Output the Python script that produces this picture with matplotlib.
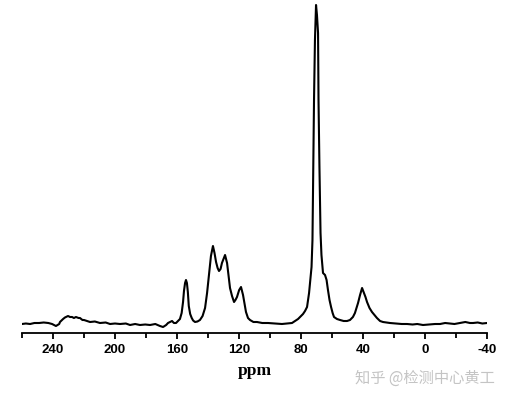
import matplotlib
matplotlib.use("Agg")
import matplotlib.pyplot as plt
from matplotlib.ticker import MultipleLocator

plt.rcParams["axes.unicode_minus"] = False

ppm = [260.0, 257.5, 254.8, 252, 249, 246, 243, 240.6, 238.1, 236, 235.5, 233.5, 232.3, 230.3, 229,
       227.7, 226.5, 225.2, 223.5, 222.6, 221, 220, 218, 216.1, 213, 209.7, 206, 203.2, 200, 196.8,
       193, 190.3, 187, 183.9, 180.5, 177.4, 174, 171, 169, 167, 165.8, 164.5, 163.2, 162, 160.6,
       160.0, 158.1, 157.0, 156.1, 155.5, 154.8, 154.2, 153.6, 153.0, 152.4, 151.5, 150.5, 149.6,
       148.4, 146.8, 145.2, 143.5,
       141.9, 140.6, 139.4, 138.1, 136.8, 135.8, 134.8, 133.8, 132.9, 131.9, 131.0, 129.0, 127.7,
       126.8, 125.8, 124.5, 123.2, 122.3, 121.3, 119.9, 118.7, 117.4, 116.4, 115.5, 114.2, 112.9,
       110.7, 108.4, 105, 101.3, 97, 92.3, 89, 85.8, 83.8, 81.9, 80.3, 78.7, 77.4, 76.1, 74.8, 73.2,
       72.6, 72.3, 71.6, 71.0, 70.3, 69.7, 69.0, 68.7, 68.1, 67.4, 66.8, 65.8, 64.5, 63.5, 62.6,
       61.6, 60.6, 59.6, 58.7, 56.8, 54.8, 52.5, 50.3, 48.4, 46.5, 45.2, 43.2, 41.9, 40.6, 39.4,
       38.4, 37.4, 35.8, 34.2, 32.6, 31.0, 29.0, 27.1, 24.8, 22.6, 19, 15, 11.6, 8, 5, 1.3, -3,
       -6.5, -9.7, -13, -16, -19, -22.6, -26, -29, -31.0, -34, -37, -40]
intensity = [9, 9.5, 9, 10, 10, 10.5, 10, 9, 7, 9, 11, 14, 15.5, 17, 16,
             16, 15, 16, 15, 15, 13, 13, 12, 11, 11.5, 10, 10.5, 9, 9.5, 9,
             9.5, 8, 9, 8, 8.5, 8, 9, 7, 6, 8, 10, 11, 12, 10, 10,
             11, 14, 20, 31, 42, 50, 53, 50, 41, 27, 19, 15, 12.5,
             11, 11.5, 13, 17,
             25, 40, 58, 77, 87, 80, 71, 65, 62, 64, 70, 78, 70,
             58, 45, 37, 31, 33, 36, 43, 46, 38, 29, 21, 15, 13,
             11, 11, 10, 10, 9.5, 9, 9.5, 10, 12, 14, 16.5, 19, 22, 26, 40, 66,
             93, 133, 233, 293, 328, 318, 300, 233, 166, 100, 78, 60, 58, 53, 43,
             33, 26, 20, 16, 14, 13, 12, 12, 13, 16, 20, 30, 38, 45, 40,
             36, 31, 25, 21, 18, 15, 12, 11, 10.5, 10, 9.5, 9, 9, 8.5, 9, 8, 8.5,
             9, 9, 10, 9.5, 9, 10, 11, 10, 10, 10.5, 9.5, 10]

xticks = [240, 200, 160, 120, 80, 40, 0, -40]
xlabel = "ppm"
watermark = "知乎 @检测中心黄工"

fig = plt.figure(figsize=(5.08, 3.96), dpi=100)
ax = fig.add_axes([22 / 508, (396 - 333) / 396, (487 - 22) / 508, 330 / 396])
ax.plot(ppm, intensity, color="black", lw=1.5)
ax.set_xlim(260, -40)
ax.set_ylim(0, 330)
for s in ["top", "left", "right"]:
    ax.spines[s].set_visible(False)
ax.spines["bottom"].set_linewidth(1.3)
ax.set_yticks([])
ax.set_xticks(xticks)
ax.xaxis.set_minor_locator(MultipleLocator(20))
ax.tick_params(axis="x", which="major", length=4, width=1.3, pad=4)
ax.tick_params(axis="x", which="minor", length=3.5, width=1.3)
for lab in ax.get_xticklabels():
    lab.set_fontfamily("Liberation Sans")
    lab.set_fontweight("bold")
    lab.set_fontsize(9.5)
ax.set_xlabel(xlabel, fontfamily="Liberation Serif", fontweight="bold", fontsize=12.5, labelpad=5)
fig.text(425 / 508, 1 - 378 / 396, watermark, family=["Noto Sans CJK SC", "DejaVu Sans"],
         fontsize=11, color="#c4c4c4", ha="center", va="center")
fig.savefig("out.png", dpi=100, facecolor="white")
